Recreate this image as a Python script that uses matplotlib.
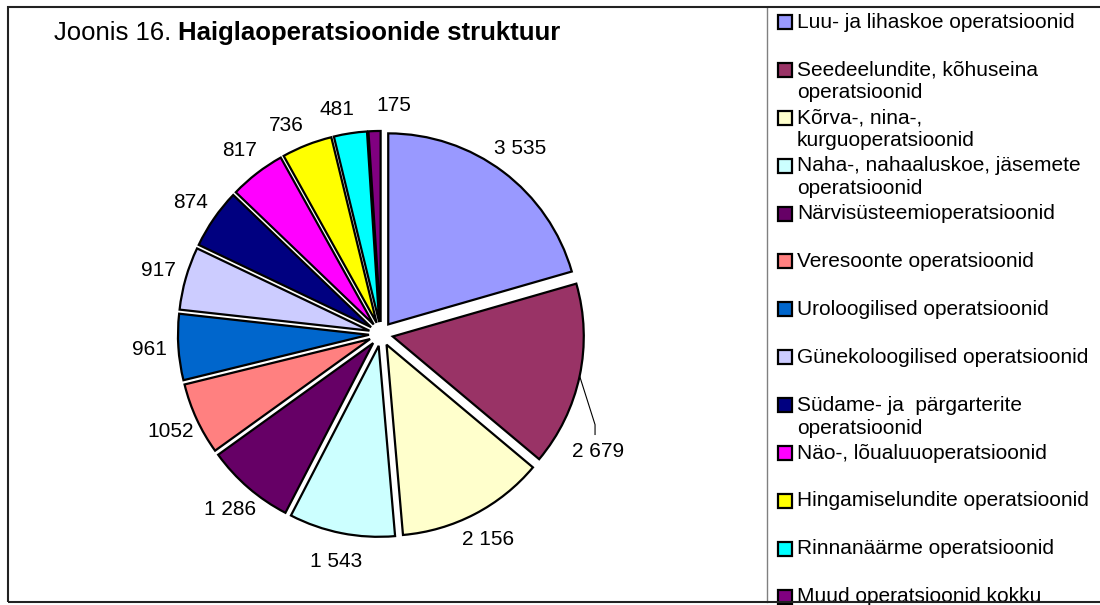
import matplotlib.pyplot as plt
from matplotlib.patches import Rectangle
from matplotlib.lines import Line2D
import numpy as np

plt.rcParams['font.family'] = ['Liberation Sans', 'DejaVu Sans']

# andmed
categories = ['Luu- ja lihaskoe operatsioonid',
              'Seedeelundite, kõhuseina\noperatsioonid',
              'Kõrva-, nina-,\nkurguoperatsioonid',
              'Naha-, nahaaluskoe, jäsemete\noperatsioonid',
              'Närvisüsteemioperatsioonid',
              'Veresoonte operatsioonid',
              'Uroloogilised operatsioonid',
              'Günekoloogilised operatsioonid',
              'Südame- ja  pärgarterite\noperatsioonid',
              'Näo-, lõualuuoperatsioonid',
              'Hingamiselundite operatsioonid',
              'Rinnanäärme operatsioonid',
              'Muud operatsioonid kokku']
values = [3535, 2679, 2156, 1543, 1286, 1052, 961, 917, 874, 817, 736, 481, 175]
value_labels = ['3 535', '2 679', '2 156', '1 543', '1 286', '1052', '961',
                '917', '874', '817', '736', '481', '175']
colors = ['#9999FF', '#993366', '#FFFFCC', '#CCFFFF', '#660066', '#FF8080',
          '#0066CC', '#CCCCFF', '#000080', '#FF00FF', '#FFFF00', '#00FFFF',
          '#800080']

W, H = 1100, 605
fig = plt.figure(figsize=(W / 100, H / 100), dpi=100)
ax = fig.add_axes([0, 0, 1, 1])

# pie centre (px) and radius (px)
cx, cy, R = 381, 334, 191
expl = 0.063
fs = 15

wedges, texts = ax.pie(values, labels=value_labels, colors=colors,
                       startangle=90, counterclock=False,
                       explode=[expl] * len(values), labeldistance=1.15,
                       wedgeprops=dict(edgecolor='black', linewidth=1.6),
                       textprops=dict(fontsize=fs))
for t in texts:
    t.set_ha('center')
    t.set_va('center')

# small slices at the top: spread labels apart like the original
for idx, shift in [(10, 3.0), (11, 2.5), (12, -5.0)]:
    w = wedges[idx]
    a = np.deg2rad((w.theta1 + w.theta2) / 2 + shift)
    texts[idx].set_position((1.2 * np.cos(a), 1.2 * np.sin(a)))

# 2 679 label sits lower with a leader line
w = wedges[1]
mid = np.deg2rad((w.theta1 + w.theta2) / 2)
lab_a = mid - np.deg2rad(16.5)
texts[1].set_position((1.293 * np.cos(lab_a), 1.293 * np.sin(lab_a)))
bend_a = mid - np.deg2rad(11)
p0 = ((1 + expl) * np.cos(mid), (1 + expl) * np.sin(mid))
p1 = (1.217 * np.cos(bend_a), 1.217 * np.sin(bend_a))
p2 = (p1[0], 1.293 * np.sin(lab_a) + 0.09)
ax.plot([p0[0], p1[0], p2[0]], [p0[1], p1[1], p2[1]], color='black', lw=0.8)

ax.set_xlim(-cx / R, (W - cx) / R)
ax.set_ylim(-(H - cy) / R, cy / R)
ax.set_aspect('auto')
ax.axis('off')

# title
t1 = fig.text(54 / W, 1 - 33 / H, 'Joonis 16. ', fontsize=18.5, va='center', ha='left')
fig.canvas.draw()
bb = t1.get_window_extent()
fig.text(bb.x1 / W, 1 - 33 / H, 'Haiglaoperatsioonide struktuur', fontsize=18.5,
         fontweight='bold', va='center', ha='left')

# legend
for i, (name, c) in enumerate(zip(categories, colors)):
    y = 22 + 47.9 * i
    fig.add_artist(Rectangle((778 / W, 1 - (y + 7) / H), 14 / W, 14 / H,
                             transform=fig.transFigure, facecolor=c,
                             edgecolor='black', linewidth=1.6))
    for k, line in enumerate(name.split('\n')):
        fig.text(797 / W, 1 - (y + 23 * k) / H, line, fontsize=fs,
                 va='center', ha='left')

# frames
fig.add_artist(Rectangle((8 / W, 1 - 602 / H), 1100 / W, 595 / H,
                         transform=fig.transFigure, fill=False,
                         edgecolor='#222222', linewidth=1.5, zorder=10))
fig.add_artist(Line2D([767 / W, 767 / W], [1 - 602 / H, 1 - 7 / H],
                      transform=fig.transFigure, color='#808080', linewidth=1))

fig.savefig('out.png', dpi=100)
